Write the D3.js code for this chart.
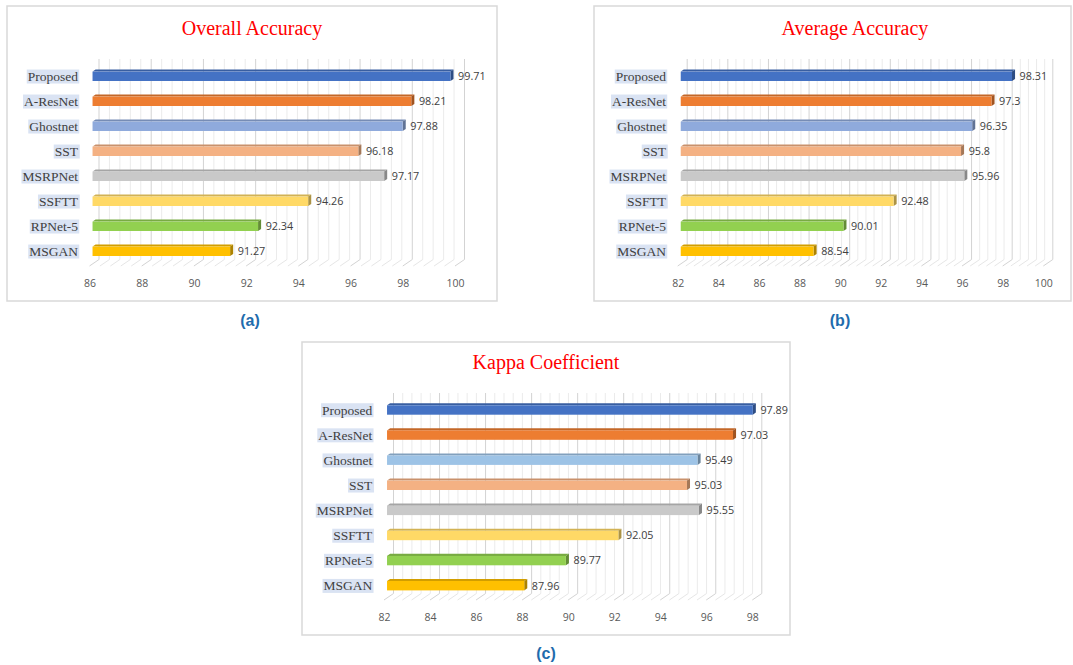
<!DOCTYPE html>
<html>
<head>
<meta charset="utf-8">
<script src="https://cdn.jsdelivr.net/npm/d3@7"></script>
<style>
  html, body { margin: 0; padding: 0; background: #ffffff; }
  svg { display: block; }
</style>
</head>
<body>
<svg id="fig" width="1073" height="665"></svg>
<script>
// ---- data ----
const categories = ["Proposed", "A-ResNet", "Ghostnet", "SST", "MSRPNet", "SSFTT", "RPNet-5", "MSGAN"];
const overallAccuracy = [99.71, 98.21, 97.88, 96.18, 97.17, 94.26, 92.34, 91.27];
const averageAccuracy = [98.31, 97.3, 96.35, 95.8, 95.96, 92.48, 90.01, 88.54];
const kappaCoefficient = [97.89, 97.03, 95.49, 95.03, 95.55, 92.05, 89.77, 87.96];

const overallTicks = [86, 88, 90, 92, 94, 96, 98, 100];
const averageTicks = [82, 84, 86, 88, 90, 92, 94, 96, 98, 100];
const kappaTicks = [82, 84, 86, 88, 90, 92, 94, 96, 98];

const colorsAB = ["#4472c4", "#ed7d31", "#8faadc", "#f4b183", "#c9c9c9", "#ffd966", "#92d050", "#ffc000"];
const colorsC  = ["#4472c4", "#ed7d31", "#9dc3e6", "#f4b183", "#c9c9c9", "#ffd966", "#92d050", "#ffc000"];

// ---- layout of the three panels ----
const panels = [
  { title: "Overall Accuracy", caption: "(a)", values: overallAccuracy, ticks: overallTicks, colors: colorsAB,
    frame: [7, 6, 490, 295], titleX: 252, titleY: 34.5, xRange: [89.5, 455], labelRight: 78,
    wallTop: 59, firstBar: 76.3, barStep: 25, captionX: 250, captionY: 326 },
  { title: "Average Accuracy", caption: "(b)", values: averageAccuracy, ticks: averageTicks, colors: colorsAB,
    frame: [594, 6, 477, 295], titleX: 855, titleY: 34.5, xRange: [677.7, 1043.3], labelRight: 666,
    wallTop: 59, firstBar: 76.3, barStep: 25, captionX: 840, captionY: 326 },
  { title: "Kappa Coefficient", caption: "(c)", values: kappaCoefficient, ticks: kappaTicks, colors: colorsC,
    frame: [302, 342, 488, 293], titleX: 546, titleY: 369.3, xRange: [384, 752.3], labelRight: 372.3,
    wallTop: 393, firstBar: 410, barStep: 25.1, captionX: 546, captionY: 658.5 }
];

// depth of the 3-D box (front edge -> back wall) and where the bars sit inside it
const depth = { dx: 9.5, dy: -6.5 };
const barNear = 0.32, barFar = 0.64;
const barHeight = 9.4;

const svg = d3.select("#fig");

panels.forEach(p => {
  const g = svg.append("g");
  const [fx, fy, fw, fh] = p.frame;

  g.append("rect")
    .attr("x", fx).attr("y", fy).attr("width", fw).attr("height", fh)
    .attr("fill", "#ffffff").attr("stroke", "#d9d9d9").attr("stroke-width", 1.5);

  g.append("text")
    .attr("x", p.titleX).attr("y", p.titleY)
    .attr("text-anchor", "middle")
    .attr("font-family", "'Liberation Serif', 'Times New Roman', serif")
    .attr("font-size", 20).attr("fill", "#ff0000")
    .text(p.title);

  const lo = p.ticks[0], hi = p.ticks[p.ticks.length - 1];
  const x = d3.scaleLinear().domain([lo, hi]).range(p.xRange);
  const y = d3.scalePoint().domain(categories)
    .range([p.firstBar, p.firstBar + p.barStep * (categories.length - 1)]);

  const floorBack = p.wallTop + 200.5;
  const floorFront = floorBack - depth.dy;

  // minor unit = major / 5
  const minor = d3.range(0, Math.round((hi - lo) / 0.4) + 1).map(i => lo + i * 0.4);
  const isMajor = v => p.ticks.some(t => Math.abs(t - v) < 1e-6);

  // back-wall gridlines
  g.append("g").selectAll("line").data(minor).join("line")
    .attr("x1", d => x(d) + depth.dx).attr("x2", d => x(d) + depth.dx)
    .attr("y1", p.wallTop).attr("y2", floorBack)
    .attr("stroke", d => isMajor(d) ? "#d3d3d3" : "#ebebeb")
    .attr("stroke-width", 1);

  // floor gridlines
  g.append("g").selectAll("line").data(minor).join("line")
    .attr("x1", d => x(d)).attr("y1", floorFront)
    .attr("x2", d => x(d) + depth.dx).attr("y2", floorBack)
    .attr("stroke", d => isMajor(d) ? "#d3d3d3" : "#e6e6e6")
    .attr("stroke-width", 1);

  // axis tick labels
  const axis = d3.axisBottom(x).tickValues(p.ticks).tickSize(0).tickPadding(0).tickFormat(d3.format("d"));
  const ax = g.append("g").attr("transform", `translate(0,${floorFront + 21})`).call(axis);
  ax.select(".domain").remove();
  ax.selectAll("text")
    .attr("dy", 0)
    .attr("font-family", "'Open Sans', 'Noto Sans', sans-serif")
    .attr("font-size", 10.5).attr("fill", "#595959");

  // 3-D bars
  const nx = depth.dx * barNear, fxo = depth.dx * barFar;
  const offX = fxo - nx, offY = depth.dy * (barFar - barNear);
  const bars = g.append("g").selectAll("g").data(categories).join("g");
  bars.each(function (c, i) {
    const v = p.values[i];
    const col = p.colors[i];
    const x0 = x(lo) + nx, x1 = x(v) + nx;
    const yt = y(c) - barHeight / 2, yb = y(c) + barHeight / 2;
    const b = d3.select(this);
    b.append("path")
      .attr("d", `M${x0},${yt}L${x1},${yt}L${x1 + offX},${yt + offY}L${x0 + offX},${yt + offY}Z`)
      .attr("fill", d3.color(col).darker(0.55));
    b.append("path")
      .attr("d", `M${x1},${yt}L${x1 + offX},${yt + offY}L${x1 + offX},${yb + offY}L${x1},${yb}Z`)
      .attr("fill", d3.color(col).darker(1.1));
    b.append("rect")
      .attr("x", x0).attr("y", yt).attr("width", x1 - x0).attr("height", barHeight)
      .attr("fill", col);
    b.append("text")
      .attr("x", x1 + 7.6).attr("y", y(c)).attr("dy", "0.36em")
      .attr("font-family", "'Open Sans', 'Noto Sans', sans-serif")
      .attr("font-size", 10.8).attr("fill", "#404040")
      .text(String(v));
  });

  // category labels with their highlight boxes
  const labels = g.append("g");
  categories.forEach(c => {
    const t = labels.append("text")
      .attr("x", p.labelRight).attr("y", y(c)).attr("dy", "0.35em")
      .attr("text-anchor", "end")
      .attr("font-family", "'Liberation Serif', 'Times New Roman', serif")
      .attr("font-size", 13.5).attr("fill", "#404040")
      .text(c);
    const bb = t.node().getBBox();
    labels.insert("rect", "text")
      .attr("x", bb.x - 1).attr("y", bb.y + 0.5)
      .attr("width", bb.width + 2).attr("height", bb.height - 1)
      .attr("fill", "#dae3f3");
  });

  svg.append("text")
    .attr("x", p.captionX).attr("y", p.captionY)
    .attr("text-anchor", "middle")
    .attr("font-family", "'Liberation Sans', Arial, sans-serif")
    .attr("font-weight", "bold")
    .attr("font-size", 16).attr("fill", "#1f6cad")
    .text(p.caption);
});
</script>
</body>
</html>
